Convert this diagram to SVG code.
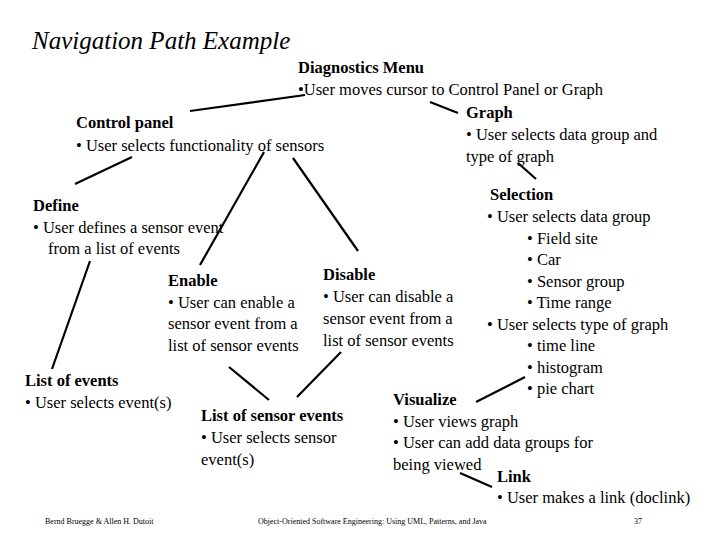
<svg xmlns="http://www.w3.org/2000/svg" width="720" height="540" viewBox="0 0 720 540">
<style>
text{font-family:'Liberation Serif','DejaVu Serif',serif;font-size:16.5px;fill:#000}
.b{font-weight:bold}
.t{font-size:25px;font-style:italic}
.f{font-size:8px}
line{stroke:#000;stroke-width:2.2}
</style>
<rect width="720" height="540" fill="#fff"/>
<g font-family="Liberation Serif, DejaVu Serif, serif">
<text class="t" x="32" y="49">Navigation Path Example</text>
<g id="diag"><text class="b" x="298" y="73">Diagnostics Menu</text><text x="298" y="95">•User moves cursor to Control Panel or Graph</text></g>
<g id="control"><text class="b" x="76" y="128">Control panel</text><text x="76" y="151">• User selects functionality of sensors</text></g>
<g id="graph"><text class="b" x="466" y="118">Graph</text><text x="466" y="140">• User selects data group and</text><text x="466" y="162">type of graph</text></g>
<g id="define"><text class="b" x="33" y="211">Define</text><text x="33" y="233">• User defines a sensor event</text><text x="48" y="254">from a list of events</text></g>
<g id="enable"><text class="b" x="168" y="286">Enable</text><text x="168" y="308">• User can enable a</text><text x="168" y="329">sensor event from a</text><text x="168" y="351">list of sensor events</text></g>
<g id="disable"><text class="b" x="323" y="280">Disable</text><text x="323" y="302">• User can disable a</text><text x="323" y="324">sensor event from a</text><text x="323" y="346">list of sensor events</text></g>
<g id="selection"><text class="b" x="490" y="200">Selection</text><text x="487" y="222">• User selects data group</text><text x="527" y="244">• Field site</text><text x="527" y="265">• Car</text><text x="527" y="287">• Sensor group</text><text x="527" y="308">• Time range</text><text x="487" y="330">• User selects type of graph</text><text x="527" y="351">• time line</text><text x="527" y="373">• histogram</text><text x="527" y="394">• pie chart</text></g>
<g id="listev"><text class="b" x="25" y="386">List of events</text><text x="25" y="408">• User selects event(s)</text></g>
<g id="lse"><text class="b" x="201" y="421">List of sensor events</text><text x="201" y="443">• User selects sensor</text><text x="201" y="465">event(s)</text></g>
<g id="visualize"><text class="b" x="393" y="405">Visualize</text><text x="393" y="427">• User views graph</text><text x="393" y="448">• User can add data groups for</text><text x="393" y="470">being viewed</text></g>
<g id="link"><text class="b" x="497" y="482">Link</text><text x="497" y="503">• User makes a link (doclink)</text></g>
<text class="f" x="45" y="524">Bernd Bruegge &amp; Allen H. Dutoit</text>
<text class="f" x="258" y="524">Object-Oriented Software Engineering: Using UML, Patterns, and Java</text>
<text class="f" x="634" y="524">37</text>
</g>
<g id="connectors">
<line x1="190" y1="111" x2="305" y2="95"/>
<line x1="430" y1="102" x2="458" y2="113"/>
<line x1="132" y1="157" x2="75" y2="184"/>
<line x1="264" y1="152" x2="200" y2="265"/>
<line x1="293" y1="158" x2="358" y2="251"/>
<line x1="518" y1="163" x2="536" y2="179"/>
<line x1="90" y1="261" x2="52" y2="369"/>
<line x1="229" y1="367" x2="269" y2="400"/>
<line x1="341" y1="352" x2="297" y2="397"/>
<line x1="476" y1="402" x2="525" y2="377"/>
<line x1="460" y1="473" x2="492" y2="487"/>
</g>
</svg>
